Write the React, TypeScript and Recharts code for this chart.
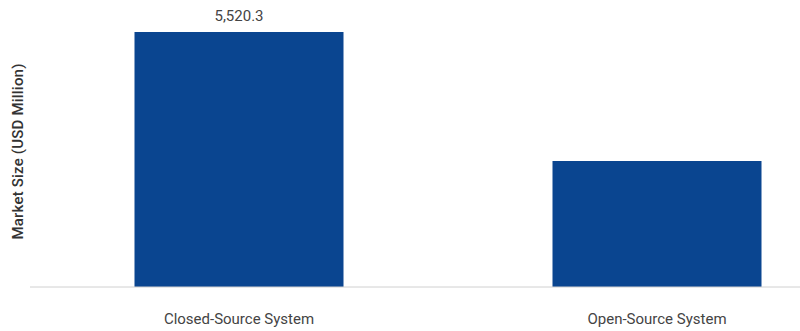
import React from "react";
import { BarChart, Bar, XAxis, YAxis, LabelList, Label } from "recharts";

const categories = ["Closed-Source System", "Open-Source System"];
const marketSize = [5520.3, 2727.6];
const valueLabels = ["5,520.3", ""];

const data = categories.map((name, i) => ({ name, value: marketSize[i], label: valueLabels[i] }));

const FONT = "Roboto, 'Liberation Sans', sans-serif";

const CategoryTick = (props: any) => {
  const { x, y, payload } = props;
  return (
    <text x={x} y={y + 29} textAnchor="middle" fontFamily={FONT} fontSize={15} fill="#444">
      {payload.value}
    </text>
  );
};

const YTitle = (props: any) => {
  const vb = props.viewBox || { x: 0, y: 0, width: 30, height: 255 };
  const cx = vb.x + 18;
  const cy = vb.y + vb.height / 2 - 8;
  return (
    <text
      x={cx}
      y={cy}
      transform={`rotate(-90, ${cx}, ${cy})`}
      textAnchor="middle"
      dominantBaseline="central"
      fontFamily={FONT}
      fontSize={15}
      fontWeight={500}
      letterSpacing={0.2}
      fill="#333"
    >
      Market Size (USD Million)
    </text>
  );
};

const ValueLabel = (props: any) => {
  const { x, y, width, value } = props;
  if (!value) return null;
  return (
    <text x={x + width / 2} y={y - 11} textAnchor="middle" fontFamily={FONT} fontSize={15} fill="#444">
      {value}
    </text>
  );
};

export default function App() {
  return (
    <div style={{ position: "absolute", left: 0, top: 0, width: 800, height: 331, overflow: "hidden", background: "#fff" }}>
      <BarChart
        width={870}
        height={331}
        data={data}
        margin={{ top: 32, right: 4, left: 0, bottom: 0 }}
        barCategoryGap="25%"
      >
        <XAxis
          dataKey="name"
          height={44}
          tickLine={false}
          axisLine={{ stroke: "#d0d0d0", strokeWidth: 1 }}
          tick={<CategoryTick />}
          interval={0}
        />
        <YAxis width={30} domain={[0, "dataMax"]} axisLine={false} tickLine={false} tick={false}>
          <Label content={<YTitle />} />
        </YAxis>
        <Bar dataKey="value" fill="#0a4590" isAnimationActive={false}>
          <LabelList dataKey="label" content={<ValueLabel />} />
        </Bar>
      </BarChart>
    </div>
  );
}
